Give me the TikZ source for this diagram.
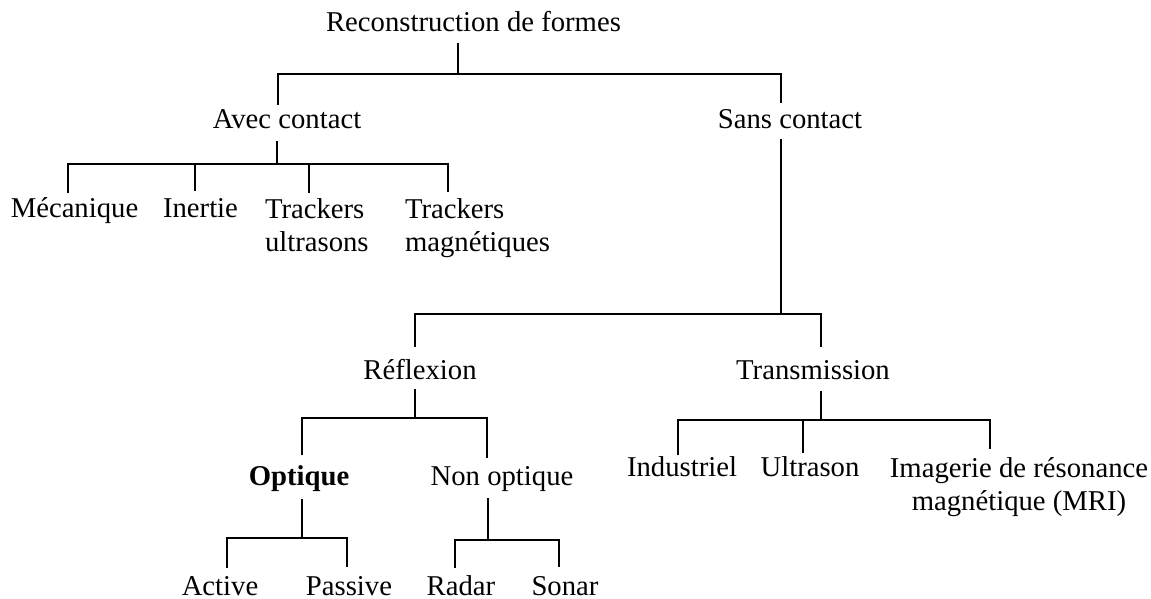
\documentclass[tikz,border=0pt]{standalone}
\usepackage{fontspec}
\setmainfont{Liberation Serif}
\begin{document}
\begin{tikzpicture}[x=1pt,y=-1pt,
  lbl/.style={inner sep=0pt, outer sep=0pt, font=\fontsize{28.7}{33}\selectfont, anchor=base},
  boldlbl/.style={lbl, font=\fontsize{28.7}{33}\selectfont\bfseries},
  tree/.style={draw=black, line width=1.8pt, line cap=butt, line join=miter}]
\useasboundingbox (0,0) rectangle (1151,599);
% labels (multi-line nodes: base anchor = baseline of last line)
\node[lbl] (root) at (473.5,32) {Reconstruction de formes};
\node[lbl] (avec) at (287,129) {Avec contact};
\node[lbl] (sans) at (790,129) {Sans contact};
\node[lbl] (meca) at (74.5,217) {Mécanique};
\node[lbl] (iner) at (200.5,217) {Inertie};
\node[lbl, anchor=base west, align=left] (tus) at (265,251) {Trackers\\ultrasons};
\node[lbl, anchor=base west, align=left] (tma) at (405,251) {Trackers\\magnétiques};
\node[lbl] (refl) at (420,379) {Réflexion};
\node[lbl] (trans) at (813,379) {Transmission};
\node[boldlbl] (opt) at (299,485) {Optique};
\node[lbl] (nopt) at (502,485) {Non optique};
\node[lbl] (indu) at (682,476) {Industriel};
\node[lbl] (ultr) at (810,476) {Ultrason};
\node[lbl, align=center] (irm) at (1019,510) {Imagerie de résonance\\magnétique (MRI)};
\node[lbl] (act) at (220,595) {Active};
\node[lbl] (pas) at (349,595) {Passive};
\node[lbl] (rad) at (461,595) {Radar};
\node[lbl] (son) at (565,595) {Sonar};
% connector end points
\coordinate (rootS) at (458,43);  \coordinate (j0) at (458,74);
\coordinate (avecN) at (278,105); \coordinate (sansN) at (781,103);
\coordinate (avecS) at (277,141); \coordinate (j1) at (277,164);
\coordinate (mecaN) at (68,193);  \coordinate (inerN) at (195,191);
\coordinate (tusN) at (309,193);  \coordinate (tmaN) at (448,192);
\coordinate (sansS) at (781,139); \coordinate (j2) at (781,314);
\coordinate (reflN) at (415,347); \coordinate (transN) at (821,347);
\coordinate (reflS) at (415,389); \coordinate (j3) at (415,418);
\coordinate (optN) at (302,455);  \coordinate (noptN) at (487,458);
\coordinate (transS) at (821,391); \coordinate (j4) at (821,420);
\coordinate (induN) at (678,455); \coordinate (ultrN) at (803,453);
\coordinate (irmN) at (990,449);
\coordinate (optS) at (302,499);  \coordinate (j5) at (302,538);
\coordinate (actN) at (227,568);  \coordinate (pasN) at (347,567);
\coordinate (noptS) at (488,498); \coordinate (j6) at (488,540);
\coordinate (radN) at (455,568);  \coordinate (sonN) at (559,567);
% connectors
\draw[tree] (rootS) -- (j0);
\draw[tree] (avecN) |- (j0) -| (sansN);
\draw[tree] (avecS) -- (j1);
\draw[tree] (mecaN) |- (j1) -| (tmaN);
\draw[tree] (inerN) -- (inerN |- j1);
\draw[tree] (tusN) -- (tusN |- j1);
\draw[tree] (sansS) -- (j2);
\draw[tree] (reflN) |- (j2) -| (transN);
\draw[tree] (reflS) -- (j3);
\draw[tree] (optN) |- (j3) -| (noptN);
\draw[tree] (transS) -- (j4);
\draw[tree] (induN) |- (j4) -| (irmN);
\draw[tree] (ultrN) -- (ultrN |- j4);
\draw[tree] (optS) -- (j5);
\draw[tree] (actN) |- (j5) -| (pasN);
\draw[tree] (noptS) -- (j6);
\draw[tree] (radN) |- (j6) -| (sonN);
\end{tikzpicture}
\end{document}
